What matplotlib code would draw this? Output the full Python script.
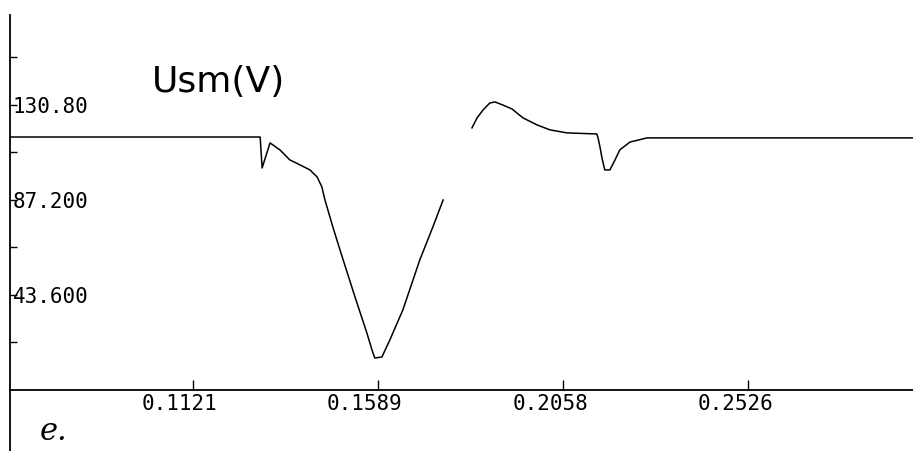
import numpy as np
import matplotlib
matplotlib.use("Agg")
import matplotlib.pyplot as plt
from matplotlib.transforms import ScaledTranslation

# Usm(V) trace (NaN = break in the trace)
t = [0.0658, 0.1291, 0.1296, 0.1316, 0.1341, 0.1366, 0.1392, 0.1417, 0.1435,
     0.1447, 0.1455, 0.1475, 0.1493, 0.1531, 0.1561, 0.1574, 0.1581, 0.1599,
     0.1619, 0.1652, 0.1695, 0.1728, 0.1754,
     np.nan,
     0.1827, 0.1840, 0.1855, 0.1872, 0.1885, 0.1905, 0.1928, 0.1956, 0.1991,
     0.2024, 0.2067, 0.2143, 0.2146, 0.2151, 0.2156, 0.2163, 0.2176, 0.2189,
     0.2201, 0.2227, 0.2270, 0.2943]
usm = [116.1, 116.1, 101.9, 113.4, 110.2, 105.6, 103.3, 101.0, 97.8,
       93.3, 87.2, 74.8, 64.3, 42.7, 26.2, 18.4, 14.7, 15.1,
       22.9, 36.7, 59.7, 74.8, 87.2,
       np.nan,
       120.3, 124.9, 128.5, 131.7, 132.2, 130.8, 129.0, 124.9, 121.7,
       119.4, 118.0, 117.5, 115.7, 111.5, 106.5, 101.0, 101.0, 105.6,
       110.2, 113.8, 115.7, 115.7]

x_ticks = [0.1121, 0.1589, 0.2058, 0.2526]
x_labels = ["0.1121", "0.1589", "0.2058", "0.2526"]
y_ticks = [43.6, 87.2, 130.8]
y_labels = ["43.600", "87.200", "130.80"]
y_minor = [21.8, 65.4, 109.0, 152.6]


fig = plt.figure(figsize=(9.13, 4.51), dpi=100)
ax = fig.add_axes([10 / 913, 0, 903 / 913, 436 / 451])

ax.plot(t, usm, color="black", linewidth=1.1)

ax.set_xlim(0.0658, 0.2943)
ax.set_ylim(-28.0, 172.1)

# axes drawn like the plotter: y axis at the left edge, x axis through zero
ax.spines["top"].set_visible(False)
ax.spines["right"].set_visible(False)
ax.spines["bottom"].set_position(("data", 0))
ax.spines["left"].set_linewidth(1.3)
ax.spines["bottom"].set_linewidth(1.3)

ax.set_xticks(x_ticks, x_labels, family="DejaVu Sans Mono", fontsize=15)
ax.tick_params(axis="x", direction="in", length=7, width=1.0, pad=3)
shift = ScaledTranslation(-0.13, 0, fig.dpi_scale_trans)
for lbl in ax.get_xticklabels():
    lbl.set_transform(lbl.get_transform() + shift)

ax.set_yticks(y_ticks, y_labels, family="DejaVu Sans Mono", fontsize=15)
ax.set_yticks(y_minor, minor=True)
ax.tick_params(axis="y", which="both", direction="in", length=5,
               width=1.0, pad=-2)
for lbl in ax.get_yticklabels():
    lbl.set_horizontalalignment("left")

ax.text(0.157, 0.846, "Usm(V)", transform=ax.transAxes, fontsize=26,
        family="DejaVu Sans", va="center", ha="left")
ax.text(0.033, 0.044, "e.", transform=ax.transAxes, fontsize=22,
        family="DejaVu Serif", style="italic", va="center", ha="left")

fig.savefig("out.png", dpi=100)
plt.close(fig)
